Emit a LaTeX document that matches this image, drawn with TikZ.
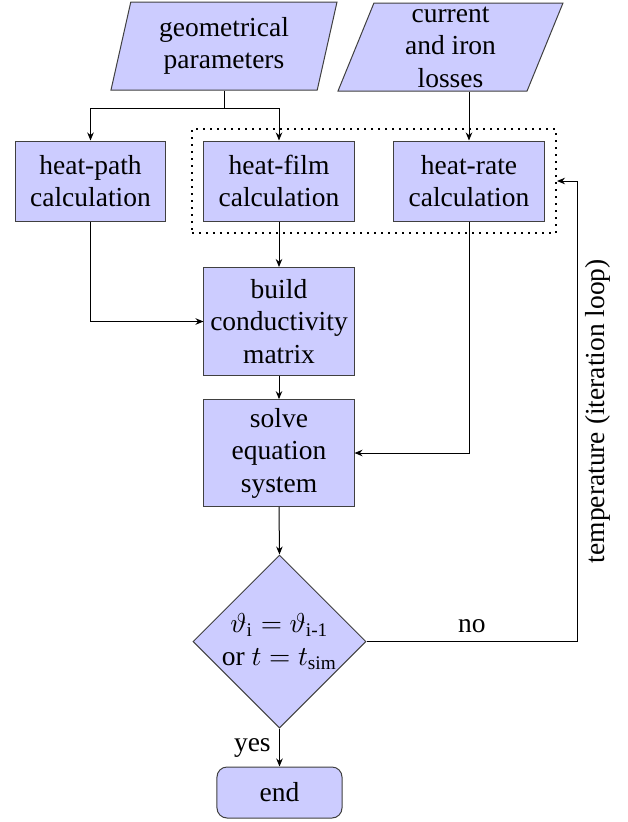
\documentclass[tikz,border=0pt]{standalone}
\usepackage{amsmath}
\usepackage{fontspec}
\setmainfont{Liberation Serif}[Ligatures=TeX]
\usetikzlibrary{shapes.geometric,arrows.meta,fit,calc}

\begin{document}
\begin{tikzpicture}[x=0.4pt,y=-0.4pt,
  font=\rmfamily\fontsize{11}{13}\selectfont,
  flow/.style={draw=black!75, fill=blue!20, align=center},
  procbox/.style={flow, rectangle, minimum width=60pt, inner xsep=2pt},
  databox/.style={flow, trapezium, trapezium left angle=71, trapezium right angle=109,
    trapezium stretches body, inner sep=0pt, minimum height=35.2pt},
  arr/.style={-{Stealth[length=3.2pt,width=2.6pt]}}]
\useasboundingbox (0,0) rectangle (628,822);

% inputs
\node[databox, minimum width=90.4pt] (geom) at (224,46) {geometrical\\parameters};
\node[databox, trapezium left angle=66, trapezium right angle=114, minimum width=90pt]
  (loss) at (450.5,47) {current\\and iron\\losses};

% calculation steps
\node[procbox, minimum height=32pt] (hpath) at (90.5,181) {heat-path\\calculation};
\node[procbox, minimum height=32pt] (hfilm) at (279,181) {heat-film\\calculation};
\node[procbox, minimum height=32pt] (hrate) at (469,181) {heat-rate\\calculation};
\node[draw, thick, dotted, fit=(hfilm)(hrate), inner sep=4.6pt] (grp) {};

\node[procbox, minimum height=43.2pt] (build) at (279,321.5) {build\\conductivity\\matrix};
\node[procbox, minimum height=42.4pt] (solve) at (279,453) {solve\\equation\\system};

% decision and end
\node[flow, diamond, aspect=1, inner sep=0pt, minimum width=69.2pt, minimum height=69.2pt]
  (dec) at (279.5,641.5) {$\vartheta_\text{i}=\vartheta_\text{i-1}$\\or $t=t_\text{sim}$};
\node[flow, rounded corners=4pt, minimum width=50pt, minimum height=20.4pt]
  (fin) at (279.5,792.5) {end};

% connectors
\coordinate (gsplit) at ($(geom.south)+(0,18)$);
\draw[arr] (geom.south) -- (gsplit) -| (hpath.north);
\draw[arr] (gsplit) -| (hfilm.north);
\draw[arr] (loss.south -| hrate.north) -- (hrate.north);
\draw[arr] (hpath.south) |- (build.west);
\draw[arr] (hfilm.south) -- (build.north);
\draw[arr] (hrate.south) |- (solve.east);
\draw[arr] (build.south) -- (solve.north);
\draw[arr] (solve.south) -- (dec.north);
\draw[arr] (dec.south) -- node[left] {yes} (fin.north);
\coordinate (loopc) at (577,641.5);
\draw[arr] (dec.east) -- node[above] {no} (loopc)
  |- node[pos=0.25, rotate=90, anchor=north] {temperature (iteration loop)} (grp.east);
\end{tikzpicture}
\end{document}
